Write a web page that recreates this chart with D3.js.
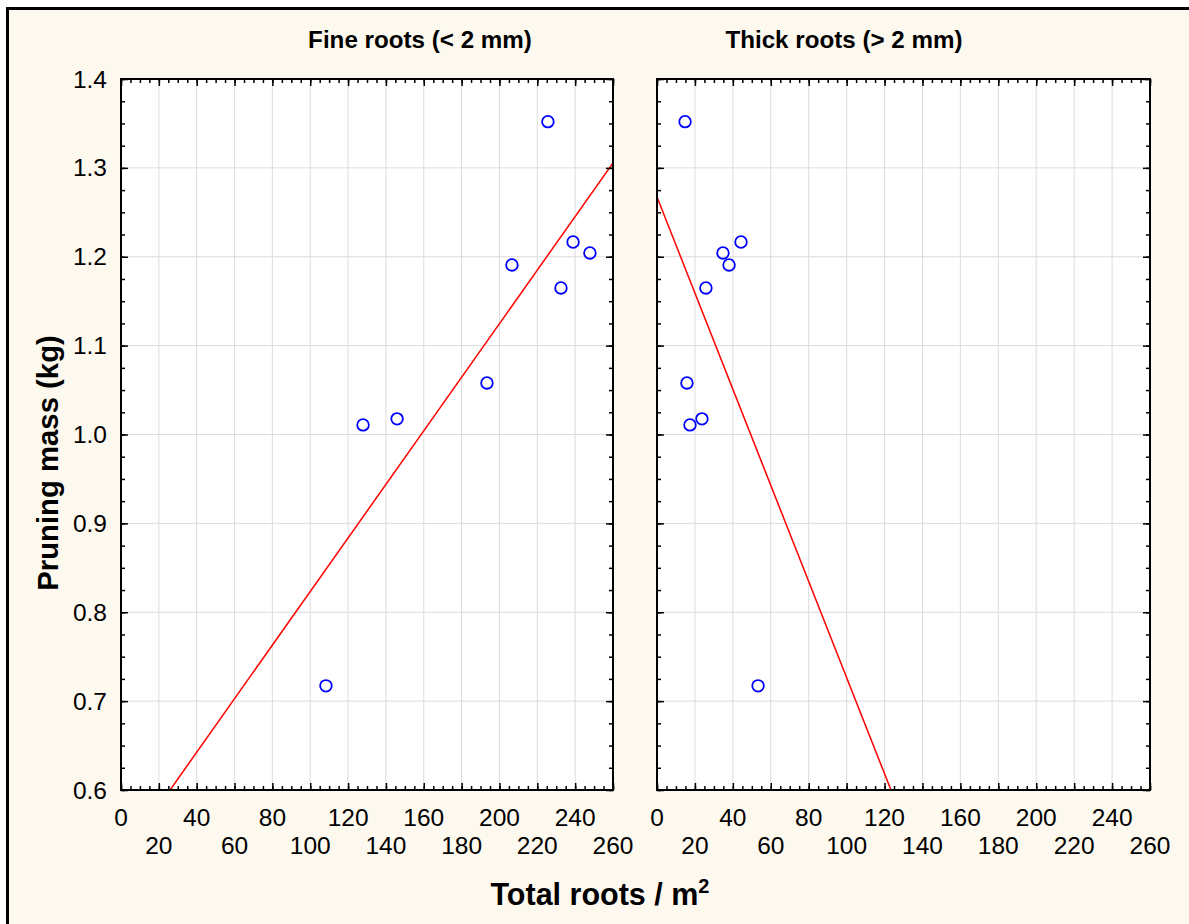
<!DOCTYPE html>
<html><head><meta charset="utf-8">
<script src="https://cdn.jsdelivr.net/npm/d3@7"></script>
<style>
html,body{margin:0;padding:0;background:#fff;overflow:hidden}
svg{display:block}
text{font-family:Arial,"Liberation Sans",sans-serif;fill:#000}
</style>
</head><body>
<svg id="c" width="1189" height="924"></svg>
<script>
// ---- data ----
const panelTitles = ["Fine roots (< 2 mm)", "Thick roots (> 2 mm)"];
const pruningMass = [1.352, 1.2166, 1.2043, 1.1908, 1.1649, 1.058, 1.0176, 1.0108, 0.7172];
const fineRoots   = [225.6, 238.9, 247.8, 206.6, 232.5, 193.4, 145.9, 127.9, 108.3];
const thickRoots  = [14.8, 44.3, 34.8, 38.0, 25.8, 15.8, 23.7, 17.4, 53.3];
const fineFit  = [0.5219, 0.003014];   // intercept, slope
const thickFit = [1.2673, -0.005408];  // intercept, slope
const xTickLabels = [0,20,40,60,80,100,120,140,160,180,200,220,240,260];
const yTickLabels = [0.6,0.7,0.8,0.9,1.0,1.1,1.2,1.3,1.4];
const xLabel = "Total roots / m";
const yLabel = "Pruning mass (kg)";

(function(){
const svg = d3.select("#c");
// background & frame (open at right/bottom edges)
svg.append("rect").attr("x",7).attr("y",8).attr("width",1182).attr("height",916)
  .attr("fill","#fef9ee");
svg.append("path").attr("d","M7.5,924V8.5H1189").attr("fill","none")
  .attr("stroke","#000").attr("stroke-width",3);

const pTop = 79, pBottom = 790;
const panels = [
  {x0:121, x1:613, xs:fineRoots, fit:fineFit, title:panelTitles[0], tx:420},
  {x0:657, x1:1150, xs:thickRoots, fit:thickFit, title:panelTitles[1], tx:844}
];
const y = d3.scaleLinear().domain([0.6,1.4]).range([pBottom, pTop]);
const xMinor = d3.range(0, 260.001, 5);
const yMinor = d3.range(0, 33).map(i => 0.6 + i*0.025);

panels.forEach((p, pi) => {
  const x = d3.scaleLinear().domain([0,260]).range([p.x0, p.x1]);
  const g = svg.append("g");
  g.append("rect").attr("x",p.x0).attr("y",pTop).attr("width",p.x1-p.x0).attr("height",pBottom-pTop).attr("fill","#fff");
  // grid
  g.append("g").selectAll("line").data(xTickLabels.slice(1,-1)).join("line")
    .attr("x1",d=>x(d)).attr("x2",d=>x(d)).attr("y1",pTop).attr("y2",pBottom)
    .attr("stroke","#dcdcdc").attr("stroke-width",1);
  g.append("g").selectAll("line").data(yTickLabels.slice(1,-1)).join("line")
    .attr("y1",d=>y(d)).attr("y2",d=>y(d)).attr("x1",p.x0).attr("x2",p.x1)
    .attr("stroke","#dcdcdc").attr("stroke-width",1);
  // clip
  const cid = "clip"+pi;
  svg.append("clipPath").attr("id",cid).append("rect")
    .attr("x",p.x0).attr("y",pTop).attr("width",p.x1-p.x0).attr("height",pBottom-pTop);
  // regression line
  const lineData = [0,260].map(v => [v, p.fit[0] + p.fit[1]*v]);
  g.append("path").attr("clip-path",`url(#${cid})`)
    .attr("d", d3.line().x(d=>x(d[0])).y(d=>y(d[1]))(lineData))
    .attr("stroke","#ff0000").attr("stroke-width",1.5).attr("fill","none");
  // points
  g.append("g").selectAll("circle").data(p.xs.map((v,i)=>[v,pruningMass[i]])).join("circle")
    .attr("cx",d=>x(d[0])).attr("cy",d=>y(d[1])).attr("r",5.8)
    .attr("fill","none").attr("stroke","#0000ff").attr("stroke-width",1.8);
  // axes ticks (inward)
  const mk = (axisFn, scale, vals, size, tr) => {
    const a = g.append("g").attr("transform",tr)
      .call(axisFn(scale).tickValues(vals).tickSize(size).tickFormat("").tickSizeOuter(0));
    a.select(".domain").remove();
    a.selectAll("line").attr("stroke","#000").attr("stroke-width",1.5);
  };
  mk(d3.axisBottom, x, xMinor, -4, `translate(0,${pBottom})`);
  mk(d3.axisBottom, x, xTickLabels, -7, `translate(0,${pBottom})`);
  mk(d3.axisTop, x, xMinor, -4, `translate(0,${pTop})`);
  mk(d3.axisTop, x, xTickLabels, -7, `translate(0,${pTop})`);
  mk(d3.axisLeft, y, yMinor, -4, `translate(${p.x0},0)`);
  mk(d3.axisLeft, y, yTickLabels, -7, `translate(${p.x0},0)`);
  mk(d3.axisRight, y, yMinor, -4, `translate(${p.x1},0)`);
  mk(d3.axisRight, y, yTickLabels, -7, `translate(${p.x1},0)`);
  // frame
  g.append("rect").attr("x",p.x0).attr("y",pTop).attr("width",p.x1-p.x0).attr("height",pBottom-pTop)
    .attr("fill","none").attr("stroke","#000").attr("stroke-width",2);
  // x tick labels, two staggered rows
  g.append("g").selectAll("text").data(xTickLabels).join("text")
    .attr("x",d=>x(d)).attr("y",(d,i)=> i%2===0 ? 826 : 854)
    .attr("text-anchor","middle").attr("font-size",24.5).text(d=>d);
  // y tick labels (left panel only)
  if (pi === 0) {
    g.append("g").selectAll("text").data(yTickLabels).join("text")
      .attr("x",107).attr("y",d=>y(d)+8.5).attr("text-anchor","end")
      .attr("font-size",24.5).text(d=>d3.format(".1f")(d));
  }
  // title
  svg.append("text").attr("x",p.tx).attr("y",48).attr("text-anchor","middle")
    .attr("font-size",24.2).attr("font-weight","bold").text(p.title);
});

// axis titles
const xl = svg.append("text").attr("x",600).attr("y",905).attr("text-anchor","middle")
  .attr("font-size",30.5).attr("font-weight","bold");
xl.append("tspan").text(xLabel);
xl.append("tspan").attr("font-size",20).attr("dy",-12).text("2");
svg.append("text").attr("transform","translate(58,463) rotate(-90)").attr("text-anchor","middle")
  .attr("font-size",29.3).attr("font-weight","bold").text(yLabel);
})();
</script>
</body></html>
